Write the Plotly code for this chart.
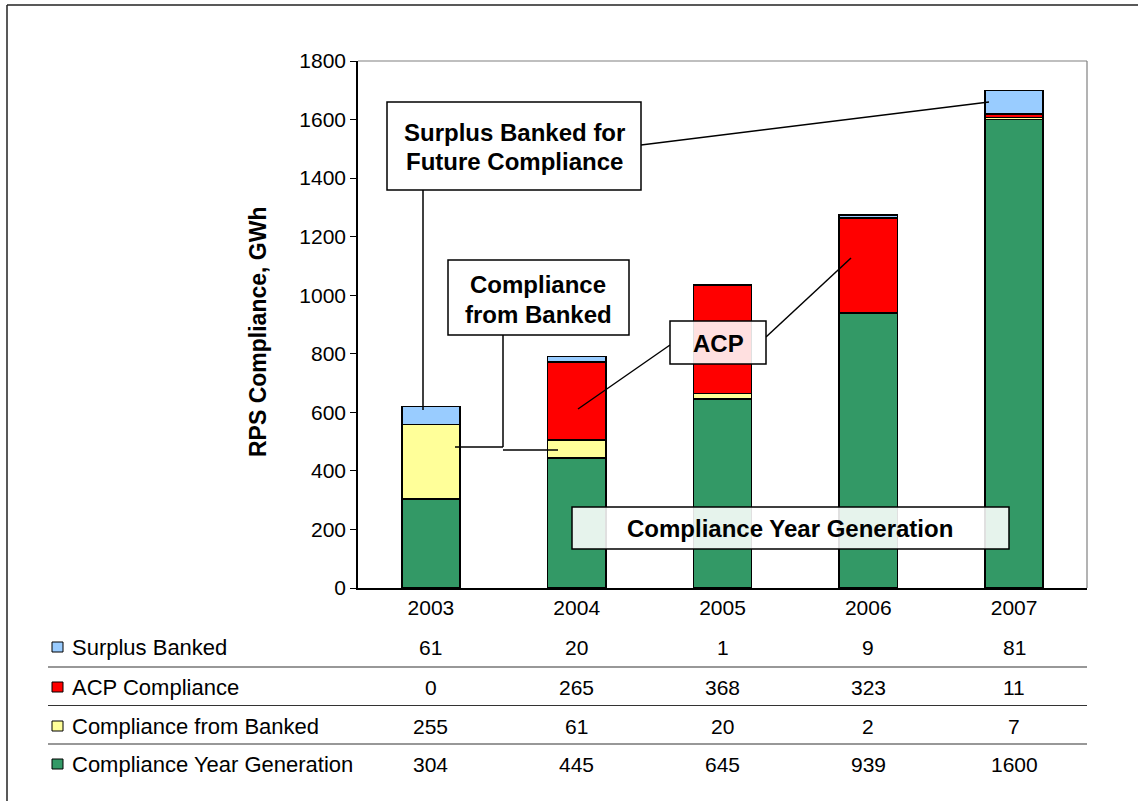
import plotly.graph_objects as go

# ---- data -------------------------------------------------------------
years = ["2003", "2004", "2005", "2006", "2007"]
compliance_year_generation = [304, 445, 645, 939, 1600]
compliance_from_banked = [255, 61, 20, 2, 7]
acp_compliance = [0, 265, 368, 323, 11]
surplus_banked = [61, 20, 1, 9, 81]

series_names = ["Compliance Year Generation", "Compliance from Banked",
                "ACP Compliance", "Surplus Banked"]
series_values = [compliance_year_generation, compliance_from_banked,
                 acp_compliance, surplus_banked]
series_colors = ["#339966", "#FFFF99", "#FF0000", "#99CCFF"]

# table rows, top to bottom
table_order = ["Surplus Banked", "ACP Compliance",
               "Compliance from Banked", "Compliance Year Generation"]

# ---- page geometry (pixels) -----------------------------------------
W, H = 1138, 801
PX_L, PX_R = 358, 1087      # plot area left / right
PX_T, PX_B = 61, 588        # plot area top / bottom (value 1800 / 0)
YMAX = 1800

FONT = "Liberation Sans, Arial, sans-serif"


def px_x(px):
    """horizontal pixel -> category-axis coordinate"""
    return (px - PX_L) / (PX_R - PX_L) * len(years) - 0.5


def px_y(py):
    """vertical pixel -> value-axis coordinate"""
    return (PX_B - py) / (PX_B - PX_T) * YMAX


def pap_x(px):
    return px / W


def pap_y(py):
    return 1 - py / H


fig = go.Figure()
for name, vals, col in zip(series_names, series_values, series_colors):
    fig.add_trace(go.Bar(
        x=years, y=vals, name=name, width=0.4,
        marker=dict(color=col, line=dict(color="black", width=1.6)),
        showlegend=False,
    ))

shapes = []
annotations = []

# frame around the whole figure
shapes.append(dict(type="line", xref="paper", yref="paper",
                   x0=pap_x(7), x1=1.0, y0=pap_y(5), y1=pap_y(5),
                   line=dict(color="#222", width=1.5)))
shapes.append(dict(type="line", xref="paper", yref="paper",
                   x0=pap_x(7), x1=pap_x(7), y0=pap_y(5), y1=0,
                   line=dict(color="#222", width=1.5)))

# grey top and right edges of the plot area
shapes.append(dict(type="line", xref="paper", yref="paper",
                   x0=pap_x(PX_L), x1=pap_x(PX_R), y0=pap_y(PX_T), y1=pap_y(PX_T),
                   line=dict(color="#808080", width=1.2)))
shapes.append(dict(type="line", xref="paper", yref="paper",
                   x0=pap_x(PX_R), x1=pap_x(PX_R), y0=pap_y(PX_T), y1=pap_y(PX_B),
                   line=dict(color="#808080", width=1.2)))


def seg(x0, y0, x1, y1):
    shapes.append(dict(type="line", xref="x", yref="y", layer="above",
                       x0=px_x(x0), y0=px_y(y0), x1=px_x(x1), y1=px_y(y1),
                       line=dict(color="black", width=1.5)))


def box(x0, y0, x1, y1, fill="white"):
    shapes.append(dict(type="rect", xref="x", yref="y", layer="above",
                       x0=px_x(x0), y0=px_y(y0), x1=px_x(x1), y1=px_y(y1),
                       fillcolor=fill, line=dict(color="black", width=1.5)))


def label(text, cx, cy, size=24):
    annotations.append(dict(xref="x", yref="y", x=px_x(cx), y=px_y(cy),
                            text="<b>%s</b>" % text, showarrow=False,
                            xanchor="center", yanchor="middle",
                            font=dict(family=FONT, size=size, color="black")))


# callout connectors
seg(423, 190, 423, 410)           # surplus -> 2003
seg(641, 145, 989, 102)           # surplus -> 2007
seg(503, 335, 503, 447)           # banked -> down
seg(455, 447, 503, 447)           # banked -> 2003
seg(503, 450, 558, 450)           # banked -> 2004
seg(670, 345, 578, 409)           # ACP -> 2004
seg(766, 337, 851, 258)           # ACP -> 2006

# callout boxes
box(387, 102, 641, 190)
box(448, 260, 629, 335)
box(670, 321, 766, 364, fill="rgba(255,255,255,0.88)")
box(572, 507, 1009, 549, fill="rgba(255,255,255,0.88)")

label("Surplus Banked for", 514, 133)
label("Future Compliance", 514, 162)
label("Compliance", 538, 284)
label("from Banked", 538, 314)
label("ACP", 718, 343)
label("Compliance Year Generation", 790, 528)

# y axis title
annotations.append(dict(xref="paper", yref="paper", x=pap_x(258), y=pap_y(332),
                        text="<b>RPS Compliance, GWh</b>", showarrow=False,
                        textangle=-90, xanchor="center", yanchor="middle",
                        font=dict(family=FONT, size=23, color="black")))

# ---- data table under the chart ------------------------------------
row_y = [647, 687, 726, 764]
sep_y = [667, 705.5, 744]
lookup = dict(zip(series_names, zip(series_values, series_colors)))
for ry, name in zip(row_y, table_order):
    vals, col = lookup[name]
    shapes.append(dict(type="rect", xref="paper", yref="paper",
                       x0=pap_x(52), x1=pap_x(63), y0=pap_y(ry - 5), y1=pap_y(ry + 5),
                       fillcolor=col, line=dict(color="black", width=1)))
    annotations.append(dict(xref="paper", yref="paper", x=pap_x(70), y=pap_y(ry),
                            text=name, showarrow=False, xanchor="left", yanchor="middle",
                            font=dict(family=FONT, size=22, color="black")))
    for i, v in enumerate(vals):
        annotations.append(dict(xref="x", yref="paper", x=i, y=pap_y(ry),
                                text=str(v), showarrow=False,
                                xanchor="center", yanchor="middle",
                                font=dict(family=FONT, size=21, color="black")))
for sy in sep_y:
    shapes.append(dict(type="line", xref="paper", yref="paper",
                       x0=pap_x(48), x1=pap_x(PX_R), y0=pap_y(sy), y1=pap_y(sy),
                       line=dict(color="#333", width=1.2)))

fig.update_layout(
    width=W, height=H,
    margin=dict(l=0, r=0, t=0, b=0, autoexpand=False),
    paper_bgcolor="white", plot_bgcolor="white",
    barmode="stack",
    font=dict(family=FONT, size=21, color="black"),
    xaxis=dict(domain=[pap_x(PX_L), pap_x(PX_R)], type="category",
               range=[-0.5, len(years) - 0.5], automargin=False,
               showline=True, linecolor="black", linewidth=1.5,
               ticks="", showgrid=False, zeroline=False,
               tickfont=dict(family=FONT, size=21, color="black")),
    yaxis=dict(domain=[pap_y(PX_B), pap_y(PX_T)], range=[0, YMAX], dtick=200,
               automargin=False,
               showline=True, linecolor="black", linewidth=1.5,
               ticks="outside", ticklen=6, tickcolor="black", tickwidth=1,
               showgrid=False, zeroline=False,
               tickfont=dict(family=FONT, size=21, color="black")),
    shapes=shapes,
    annotations=annotations,
)

fig.write_html("out.html")
